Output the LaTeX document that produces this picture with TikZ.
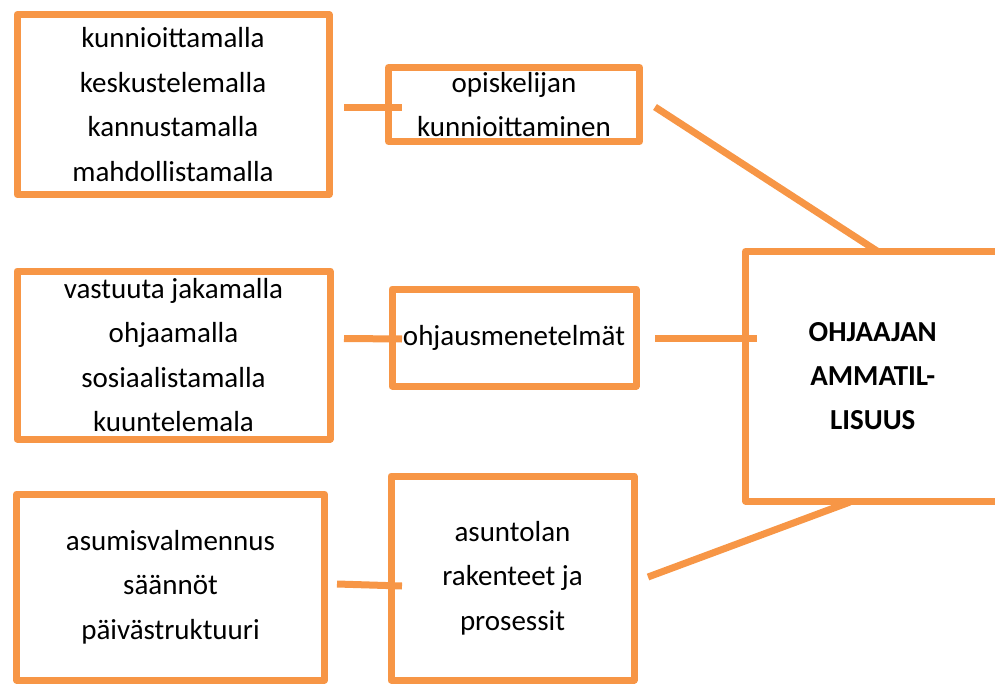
\documentclass[tikz,border=0pt]{standalone}
\usepackage{fontspec}
\setmainfont{Carlito}
\definecolor{boxorange}{HTML}{F79646}
\tikzset{
  box/.style={draw=boxorange, line width=3.5pt, line join=round, align=center,
    inner sep=0pt, font=\fontsize{14.5}{22.25}\selectfont},
  mainbox/.style={box, font=\fontsize{14.5}{22}\selectfont\bfseries},
  link/.style={draw=boxorange, line width=3.5pt}
}
\begin{document}
\begin{tikzpicture}[x=0.5pt,y=-0.5pt]
\useasboundingbox (0,0) rectangle (995,684);

\node[box, minimum width=156pt, minimum height=90pt] (v1) at (173,104.5) {kunnioittamalla\\keskustelemalla\\kannustamalla\\mahdollistamalla};
\node[box, minimum width=125.5pt, minimum height=37pt] (v2) at (514,104.5) {opiskelijan\\kunnioittaminen};
\node[box, minimum width=156.5pt, minimum height=84pt] (v3) at (173.5,355) {vastuuta jakamalla\\ohjaamalla\\sosiaalistamalla\\kuuntelemala};
\node[box, minimum width=122pt, minimum height=48.5pt] (v4) at (514,337.5) {ohjausmenetelmät};
\node[box, minimum width=154pt, minimum height=93pt] (v5) at (170.5,587) {asumisvalmennus\\säännöt\\päivästruktuuri};
\node[box, minimum width=121.5pt, minimum height=102pt] (v6) at (512.5,578) {asuntolan\\rakenteet ja\\prosessit};
\node[mainbox, minimum width=127.25pt, minimum height=124.75pt] (v7) at (872.75,376.25) {OHJAAJAN\\AMMATIL-\\LISUUS};

\coordinate (c1) at (344,107.5);
\coordinate (c2) at (402,107.5);
\coordinate (c3) at (344,338.5);
\coordinate (c4) at (402,339);
\coordinate (c5) at (337,584);
\coordinate (c6) at (402,586);
\coordinate (c7) at (655,107);
\coordinate (c8) at (877,251);
\coordinate (c9) at (655,338);
\coordinate (c10) at (757,338);
\coordinate (c11) at (648,577);
\coordinate (c12) at (850,502);

\draw [link] (c1) -- (c2);
\draw [link] (c3) -- (c4);
\draw [link] (c5) -- (c6);
\draw [link] (c7) -- (c8);
\draw [link] (c9) -- (c10);
\draw [link] (c11) -- (c12);
\end{tikzpicture}
\end{document}
